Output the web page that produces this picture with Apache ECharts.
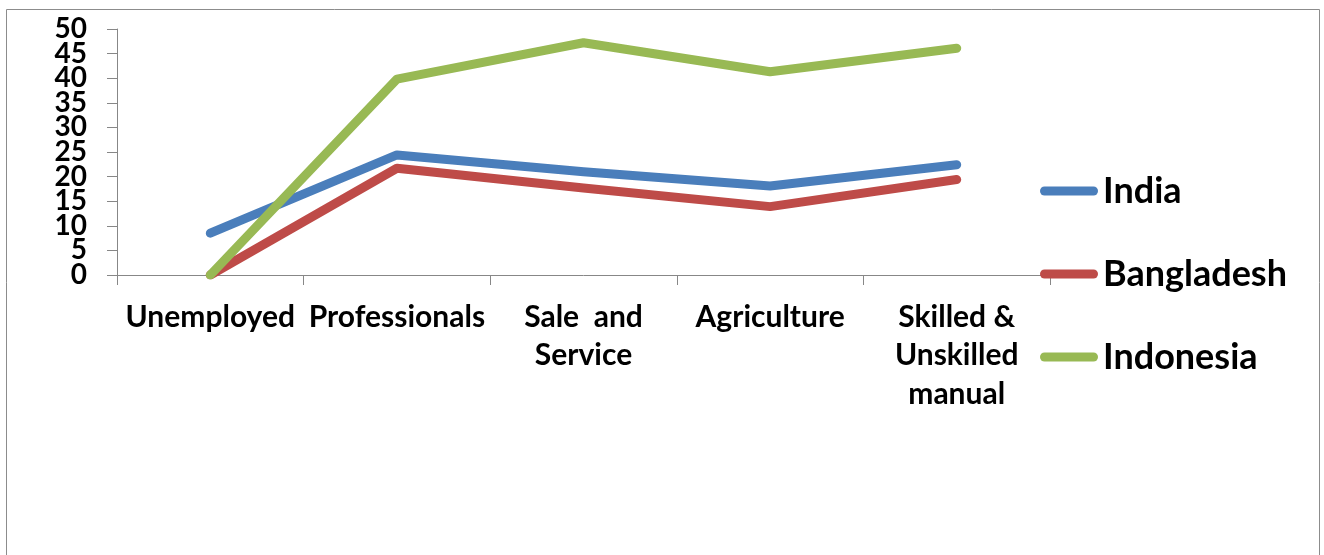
<!DOCTYPE html>
<html>
<head>
<meta charset="utf-8">
<script src="https://cdn.jsdelivr.net/npm/echarts@6/dist/echarts.min.js"></script>
<style>
  html, body { margin: 0; padding: 0; background: #fff; }
  #chart { width: 1324px; height: 555px; }
</style>
</head>
<body>
<div id="chart"></div>
<script>
// Occupation categories along the x axis
const categories = ['Unemployed', 'Professionals', 'Sale  and\nService', 'Agriculture', 'Skilled &\nUnskilled\nmanual'];

// Share (%) by country
const india      = [8.5, 24.4, 21.0, 18.1, 22.4];
const bangladesh = [0, 21.7, 17.7, 13.9, 19.4];
const indonesia  = [0, 39.8, 47.2, 41.3, 46.1];

// Value axis range
const Y_MIN = 0;
const Y_MAX = 50;
const Y_STEP = 5;

const FONT = 'Lato, "Open Sans", sans-serif';
const AXIS_GREY = '#878787';

const chart = echarts.init(document.getElementById('chart'), null, { renderer: 'canvas' });

function lineSeries(name, data, color) {
  return {
    name: name,
    type: 'line',
    data: data,
    yAxisIndex: 0,
    showSymbol: false,
    symbol: 'none',
    color: color,
    lineStyle: { color: color, width: 9, cap: 'round', join: 'round' },
    emphasis: { disabled: true },
    animation: false
  };
}

const yLabelStyle = {
  margin: 30,
  showMinLabel: true,
  showMaxLabel: true,
  hideOverlap: false,
  fontFamily: FONT,
  fontSize: 28,
  fontWeight: 'bold',
  color: '#000'
};

// The tick labels sit very close together, so the even and odd steps are
// written by two overlaid value axes that share the same scale.
function valueAxis(showEven, drawLine) {
  return {
    type: 'value',
    position: 'left',
    min: Y_MIN,
    max: Y_MAX,
    interval: Y_STEP,
    axisLine: { show: drawLine, lineStyle: { color: AXIS_GREY, width: 1 } },
    axisTick: { show: drawLine, inside: false, length: 10, lineStyle: { color: AXIS_GREY, width: 1 } },
    axisLabel: Object.assign({}, yLabelStyle, {
      formatter: function (v) {
        const even = Math.round(v / Y_STEP) % 2 === 0;
        return even === showEven ? String(v) : '';
      }
    }),
    splitLine: { show: false }
  };
}

chart.setOption({
  animation: false,
  backgroundColor: '#fff',
  graphic: [{
    type: 'rect',
    shape: { x: 6.5, y: 9.5, width: 1313, height: 570 },
    style: { fill: 'none', stroke: '#8c8c8c', lineWidth: 1 },
    silent: true,
    z: -1
  }],
  grid: { left: 117, right: 274, top: 29, bottom: 280, containLabel: false },
  legend: {
    orient: 'vertical',
    left: 1035,
    top: 166,
    itemWidth: 58,
    itemHeight: 9,
    itemGap: 43,
    icon: 'path://M4.5,0 H53.5 A4.5,4.5 0 0 1 53.5,9 H4.5 A4.5,4.5 0 0 1 4.5,0 Z',
    textStyle: { fontFamily: FONT, fontSize: 36, fontWeight: 'bold', color: '#000', lineHeight: 40 },
    selectedMode: false,
    data: ['India', 'Bangladesh', 'Indonesia']
  },
  xAxis: {
    type: 'category',
    data: categories,
    boundaryGap: true,
    axisLine: { show: true, lineStyle: { color: AXIS_GREY, width: 1 } },
    axisTick: { show: true, length: 10, lineStyle: { color: AXIS_GREY } },
    axisLabel: {
      interval: 0,
      margin: 23,
      fontFamily: FONT,
      fontSize: 30,
      fontWeight: 'bold',
      color: '#000',
      lineHeight: 38.5,
      align: 'center'
    },
    splitLine: { show: false }
  },
  yAxis: [valueAxis(true, true), valueAxis(false, false)],
  series: [
    lineSeries('India', india, '#4a7ebb'),
    lineSeries('Bangladesh', bangladesh, '#be4b48'),
    lineSeries('Indonesia', indonesia, '#98b954')
  ]
});
</script>
</body>
</html>
